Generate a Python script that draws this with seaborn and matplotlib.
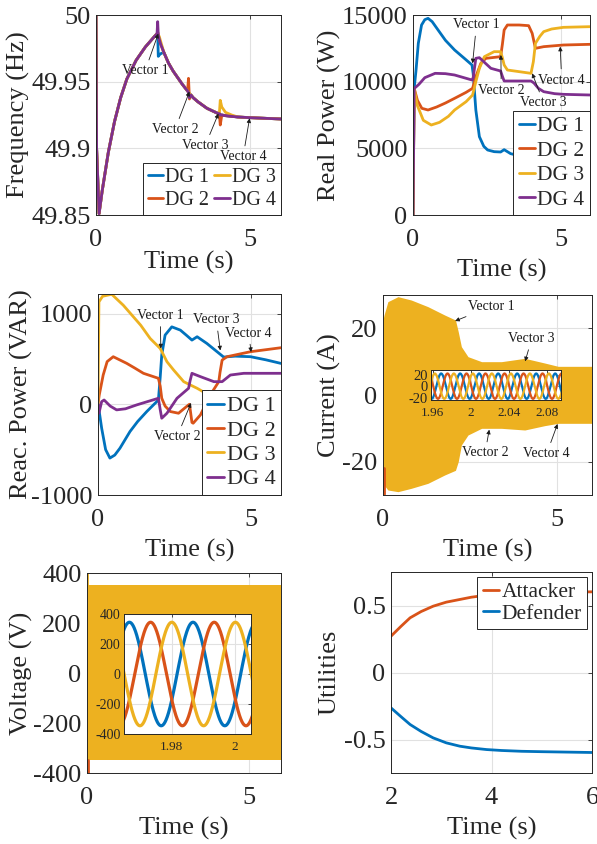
import numpy as np
import matplotlib
matplotlib.use("Agg")
import matplotlib.pyplot as plt
import seaborn as sns

# ---------------- data ----------------
dg_names = ["DG 1", "DG 2", "DG 3", "DG 4"]
dg_colors = ["#0072BD", "#D95319", "#EDB120", "#7E2F8E"]

# frequency (Hz): shared trajectory, each DG only differs at the attack instants
freq_t = [0, 0.02, 0.1, 0.2, 0.4, 0.6, 0.8, 1.0, 1.3, 1.6, 1.9, 1.98, 2.0, 2.02, 2.05,
          2.1, 2.2, 2.35, 2.5, 2.8, 2.97, 3.0, 3.03, 3.08, 3.15, 3.3, 3.6, 3.97, 4.0,
          4.03, 4.08, 4.2, 4.4, 4.6, 5.0, 5.5, 6.0]
freq_base = [50.0, 49.90, 49.851, 49.868, 49.897, 49.92, 49.938, 49.952, 49.966, 49.976,
             49.984, 49.986, 49.987, 49.985, 49.982, 49.978, 49.972, 49.964, 49.958,
             49.948, 49.943, 49.942, 49.941, 49.940, 49.938, 49.935, 49.930, 49.926,
             49.926, 49.925, 49.925, 49.9245, 49.924, 49.9235, 49.923, 49.9225, 49.922]
freq_dev_dg1 = {2.02: 49.969, 2.05: 49.970, 2.1: 49.971}
freq_dev_dg2 = {3.0: 49.9525, 3.03: 49.937, 4.03: 49.9175}
freq_dev_dg3 = {2.05: 49.984, 2.1: 49.980, 4.03: 49.936, 4.08: 49.931, 4.2: 49.927, 4.4: 49.925}
freq_dev_dg4 = {2.0: 49.995, 3.03: 49.938}

# real power (W)
p_dg1_t = [0, 0.04, 0.1, 0.18, 0.29, 0.4, 0.51, 0.65, 0.85, 1.1, 1.41, 1.74, 2.0, 2.04, 2.13,
           2.25, 2.4, 2.53, 2.75, 2.97, 3.09, 3.2, 3.31, 3.5, 4.0, 4.15, 4.4, 6.0]
p_dg1 = [0, 9500, 10800, 12875, 14250, 14650, 14750, 14500, 13875, 13100, 12375, 11750, 11250,
         10600, 7875, 5875, 5150, 4875, 4750, 4725, 4900, 4750, 4600, 4500, 4500, 4200, 4050, 4050]
p_dg2_t = [0, 0.04, 0.15, 0.3, 0.51, 0.8, 1.1, 1.41, 1.8, 2.02, 2.13, 2.3, 2.47, 2.97, 3.03,
           3.09, 3.2, 3.6, 3.92, 4.04, 4.15, 4.43, 5.1, 6.0]
p_dg2 = [0, 9500, 8600, 8000, 7875, 8100, 8400, 8750, 9200, 9500, 10375, 11375, 11750, 11875,
         12800, 13875, 14250, 14250, 14200, 13625, 12500, 12625, 12750, 12800]
p_dg3_t = [0, 0.04, 0.15, 0.35, 0.62, 0.9, 1.2, 1.41, 1.8, 2.02, 2.13, 2.25, 2.42, 2.75, 2.97,
           3.03, 3.09, 3.2, 3.6, 4.0, 4.08, 4.15, 4.3, 4.43, 4.7, 5.1, 6.0]
p_dg3 = [0, 9500, 8200, 7100, 6750, 6950, 7400, 7875, 8500, 9000, 10000, 11000, 11875, 12250,
         12250, 11800, 11250, 10875, 10750, 10625, 11500, 12875, 13400, 13750, 13950, 14075, 14125]
p_dg4_t = [0, 0.04, 0.1, 0.2, 0.4, 0.75, 1.1, 1.41, 2.0, 2.04, 2.13, 2.25, 2.64, 2.97, 3.03,
           3.09, 3.5, 4.0, 4.1, 4.25, 4.43, 4.8, 5.1, 6.0]
p_dg4 = [0, 9500, 9600, 9800, 10300, 10625, 10600, 10500, 10125, 10300, 11750, 11800, 11000,
         10800, 10400, 10050, 10050, 10050, 9900, 9500, 9250, 9100, 9050, 9000]

# reactive power (VAR)
q_dg1_t = [0, 0.04, 0.12, 0.25, 0.39, 0.55, 0.72, 1.05, 1.3, 1.6, 1.98, 2.04, 2.09, 2.2, 2.42,
           2.7, 2.9, 3.08, 3.25, 3.57, 3.9, 4.12, 4.5, 5.0, 5.5, 6.0]
q_dg1 = [0, -80, -264, -500, -593, -560, -484, -300, -190, -80, 47, 300, 542, 762, 853, 817,
         760, 707, 744, 670, 580, 520, 530, 524, 490, 450]
q_dg2_t = [0, 0.04, 0.17, 0.3, 0.5, 0.94, 1.2, 1.49, 1.98, 2.04, 2.09, 2.2, 2.37, 2.64, 2.85,
           2.97, 3.0, 3.08, 3.12, 3.36, 3.68, 3.96, 4.0, 4.07, 4.23, 5.0, 6.0]
q_dg2 = [0, 100, 322, 470, 524, 451, 400, 341, 286, 200, 66, -20, -80, -99, -40, -7, 0, -200,
         -209, -117, 102, 249, 350, 487, 524, 579, 623]
q_dg3_t = [0, 0.03, 0.15, 0.45, 0.83, 1.4, 1.71, 2.04, 2.26, 2.48, 2.81, 3.03, 3.25, 3.63, 4.0,
           4.2, 6.0]
q_dg3 = [0, 1128, 1190, 1212, 1091, 871, 725, 615, 469, 377, 249, 212, 176, 103, 30, -150, -220]
q_dg4_t = [0, 0.03, 0.12, 0.2, 0.4, 0.61, 0.9, 1.27, 1.98, 2.04, 2.09, 2.26, 2.59, 2.97, 3.02,
           3.08, 3.36, 3.8, 4.07, 4.34, 4.78, 6.0]
q_dg4 = [0, -100, 29, 47, -20, -62, -50, -7, 66, -60, -154, -99, 66, 176, 260, 341, 304, 249,
         249, 322, 341, 341]

# current (A): envelope of the three-phase waveform
cur_t = [0, 0.03, 0.14, 0.43, 0.81, 1.29, 1.77, 2.08, 2.16, 2.25, 2.44, 2.83, 3.4, 4.07, 4.64,
         5.03, 6.0]
cur_upper = [22.5, 24, 28, 29.5, 28.5, 26.5, 24, 22.5, 19, 14.5, 11.5, 10, 10, 11, 9.6, 8.6, 8.6]
cur_lower = [-20, -27, -28.5, -29, -28, -26.5, -24, -22.6, -20, -15, -12, -10, -10, -10.5,
             -9.2, -8.5, -8.5]
cur_spike = [-21.8, -29.8]
cur_amp = 22
cur_peak_t = 1.9687

# voltage (V)
volt_t = [0, 6.0]
volt_upper = [352, 352]
volt_lower = [-348, -348]
volt_spike_top = [352, 400]
volt_spike_bottom = [-348, -400]
volt_amp = 345
volt_peak_t = 1.9667
grid_freq = 49.92

# utilities
u_t = [2.0, 2.2, 2.38, 2.6, 2.84, 3.1, 3.37, 3.6, 3.9, 4.2, 4.6, 5.0, 5.5, 6.0]
u_attacker = [0.271, 0.345, 0.408, 0.455, 0.495, 0.525, 0.545, 0.562, 0.577, 0.587, 0.594,
              0.598, 0.600, 0.602]
u_defender = [-0.264, -0.33, -0.388, -0.44, -0.488, -0.525, -0.55, -0.563, -0.575, -0.582,
              -0.588, -0.591, -0.594, -0.597]

# ---------------- style ----------------
sns.set_theme(style="white")
plt.rcParams['font.family'] = ['Liberation Serif', 'DejaVu Serif']
plt.rcParams['axes.unicode_minus'] = False
TXT = '#262626'

fig = plt.figure(figsize=(5.97, 8.44), dpi=100)
W, H = 597, 844


def make_ax(left, top, right, bottom):
    return fig.add_axes([left / W, 1 - bottom / H, (right - left) / W, (bottom - top) / H])


def style(ax, xlim, ylim, xticks, yticks, yticklabels, size=19, pad=4, xpad=10):
    ax.set_xlim(xlim)
    ax.set_ylim(ylim)
    ax.set_xticks(xticks)
    ax.set_xticklabels([f"{v:g}" for v in xticks])
    ax.set_yticks(yticks)
    ax.set_yticklabels(yticklabels)
    ax.grid(True, color='#e1e1e1', lw=0.8)
    ax.set_axisbelow(True)
    ax.tick_params(direction='in', top=True, right=True, length=3, width=0.6,
                   labelsize=size, colors=TXT, pad=pad)
    ax.tick_params(axis='x', pad=xpad)
    for s in ax.spines.values():
        s.set_color(TXT)
        s.set_linewidth(0.7)
        s.set_zorder(6)


def labels(ax, ylab, ypos, xpos):
    ax.set_xlabel("Time (s)", fontsize=19, color=TXT)
    ax.xaxis.set_label_coords(0.5, xpos)
    ax.set_ylabel(ylab, fontsize=19, color=TXT)
    ax.yaxis.set_label_coords(ypos, 0.5)


def draw_dg(ax, ts, vs):
    for name, color, t, v in zip(dg_names, dg_colors, ts, vs):
        sns.lineplot(x=t, y=v, ax=ax, color=color, lw=2, label=name,
                     estimator=None, sort=False)


def dg_legend(ax, size, spacing=0.2, **kw):
    h, l = ax.get_legend_handles_labels()
    leg = ax.legend(h, l, fontsize=size, frameon=True, fancybox=False, framealpha=1,
                    edgecolor=TXT, handlelength=0.75, handletextpad=0.12,
                    borderpad=0.25, labelspacing=spacing, borderaxespad=0, **kw)
    leg.get_frame().set_linewidth(0.7)
    for t in leg.get_texts():
        t.set_color(TXT)
    return leg


def vec(ax, text, xy, xytext):
    ax.annotate(text, xy=xy, xytext=xytext, fontsize=10, ha='center', va='center',
                color='k', zorder=7,
                arrowprops=dict(arrowstyle='-|>', color='k', lw=0.6,
                                mutation_scale=6, shrinkA=1, shrinkB=0))


# ---------------- 1. frequency ----------------
ax1 = make_ax(96, 15, 281, 215)
freq_sets = []
for dev in [freq_dev_dg1, freq_dev_dg2, freq_dev_dg3, freq_dev_dg4]:
    freq_sets.append([dev.get(t, f) for t, f in zip(freq_t, freq_base)])
draw_dg(ax1, [freq_t] * 4, freq_sets)
style(ax1, (0, 6), (49.85, 50), [0, 5], [49.85, 49.9, 49.95, 50],
      ['49.85', '49.9', '49.95', '50'])
labels(ax1, "Frequency (Hz)", -0.357, -0.18)
vec(ax1, "Vector 1", (2.02, 49.986), (1.59, 49.958))
vec(ax1, "Vector 2", (3.03, 49.9425), (2.56, 49.914))
vec(ax1, "Vector 3", (3.97, 49.926), (3.54, 49.902))
vec(ax1, "Vector 4", (4.98, 49.9225), (4.77, 49.8935))
dg_legend(ax1, 14.5, ncol=2, loc='lower right', bbox_to_anchor=(1, 0), columnspacing=0.25)

# ---------------- 2. real power ----------------
ax2 = make_ax(413, 15, 590, 215)
draw_dg(ax2, [p_dg1_t, p_dg2_t, p_dg3_t, p_dg4_t], [p_dg1, p_dg2, p_dg3, p_dg4])
style(ax2, (0, 6), (0, 15000), [0, 5], [0, 5000, 10000, 15000],
      ['0', '5000', '10000', '15000'])
labels(ax2, "Real Power (W)", -0.407, -0.22)
vec(ax2, "Vector 1", (2.02, 11375), (2.15, 14250))
vec(ax2, "Vector 2", (2.98, 12000), (2.99, 9375))
vec(ax2, "Vector 3", (4.04, 10625), (4.43, 8400))
vec(ax2, "Vector 4", (4.99, 12625), (5.04, 10125))
dg_legend(ax2, 15.5, loc='lower right', bbox_to_anchor=(1, 0))

# ---------------- 3. reactive power ----------------
ax3 = make_ax(98, 294, 281, 495)
draw_dg(ax3, [q_dg1_t, q_dg2_t, q_dg3_t, q_dg4_t], [q_dg1, q_dg2, q_dg3, q_dg4])
style(ax3, (0, 6), (-1000, 1215), [0, 5], [-1000, 0, 1000], ['-1000', '0', '1000'])
labels(ax3, "Reac. Power (VAR)", -0.355, -0.22)
vec(ax3, "Vector 1", (2.06, 615), (2.04, 978))
vec(ax3, "Vector 3", (4.01, 593), (3.88, 930))
vec(ax3, "Vector 4", (5.02, 575), (4.94, 784))
vec(ax3, "Vector 2", (3.05, 14), (2.59, -359))
dg_legend(ax3, 16, spacing=0.17, loc='lower right', bbox_to_anchor=(1, 0))

# ---------------- 4. current ----------------
ax4 = make_ax(383, 295, 592, 495)
ax4.fill_between(cur_t, cur_lower, cur_upper, color=dg_colors[2], lw=0, zorder=2)
sns.lineplot(x=[0.02, 0.02], y=cur_spike, ax=ax4, color=dg_colors[1], lw=2,
             estimator=None, sort=False)
style(ax4, (0, 6), (-30, 30), [0, 5], [-20, 0, 20], ['-20', '0', '20'])
labels(ax4, "Current (A)", -0.201, -0.22)
vec(ax4, "Vector 1", (2.07, 22.2), (3.12, 26.6))
vec(ax4, "Vector 3", (4.08, 10.1), (4.27, 16.9))
vec(ax4, "Vector 2", (3.05, -10.4), (2.93, -17.4))
vec(ax4, "Vector 4", (5.01, -8.7), (4.7, -17.6))

ins4 = make_ax(431, 370, 561, 400)
t_in = np.linspace(1.955, 2.1, 600)
for k, color in enumerate(dg_colors[:3]):
    wave = cur_amp * np.cos(2 * np.pi * grid_freq * (t_in - cur_peak_t) - 2 * np.pi * k / 3)
    sns.lineplot(x=t_in, y=wave, ax=ins4, color=color, lw=1.6, estimator=None, sort=False)
style(ins4, (1.958, 2.095), (-24, 28), [1.96, 2.0, 2.04, 2.08], [-20, 0, 20],
      ['-20', '0', '20'], size=10.5, pad=2.5, xpad=5)
ins4.tick_params(axis='x', labelsize=9.5, length=2)
ins4.tick_params(axis='y', length=2)
ins4.set_xticklabels(['1.96', '2', '2.04', '2.08'])

# ---------------- 5. voltage ----------------
ax5 = make_ax(87, 573, 281, 773)
ax5.fill_between(volt_t, volt_lower, volt_upper, color=dg_colors[2], lw=0, zorder=2)
sns.lineplot(x=[0.01, 0.01], y=volt_spike_top, ax=ax5, color=dg_colors[2], lw=2,
             estimator=None, sort=False)
sns.lineplot(x=[0.03, 0.03], y=volt_spike_bottom, ax=ax5, color=dg_colors[1], lw=2,
             estimator=None, sort=False)
style(ax5, (0, 6), (-400, 400), [0, 5], [-400, -200, 0, 200, 400],
      ['-400', '-200', '0', '200', '400'])
labels(ax5, "Voltage (V)", -0.278, -0.22)

ins5 = make_ax(124, 614, 251, 734)
t_v = np.linspace(1.96, 2.01, 500)
for k, color in enumerate(dg_colors[:3]):
    wave = volt_amp * np.cos(2 * np.pi * grid_freq * (t_v - volt_peak_t) - 2 * np.pi * k / 3)
    sns.lineplot(x=t_v, y=wave, ax=ins5, color=color, lw=2.3, estimator=None, sort=False)
style(ins5, (1.965, 2.005), (-400, 400), [1.98, 2.0], [-400, -200, 0, 200, 400],
      ['-400', '-200', '0', '200', '400'], size=10, pad=2.5, xpad=5)
ins5.tick_params(axis='x', labelsize=9.5, length=2)
ins5.tick_params(axis='y', length=2)
ins5.set_xticklabels(['1.98', '2'])

# ---------------- 6. utilities ----------------
ax6 = make_ax(391, 572, 592, 773)
sns.lineplot(x=u_t, y=u_attacker, ax=ax6, color=dg_colors[1], lw=2, label="Attacker",
             estimator=None, sort=False)
sns.lineplot(x=u_t, y=u_defender, ax=ax6, color=dg_colors[0], lw=2, label="Defender",
             estimator=None, sort=False)
style(ax6, (2, 6), (-0.75, 0.75), [2, 4, 6], [-0.5, 0, 0.5], ['-0.5', '0', '0.5'])
labels(ax6, "Utilities", -0.249, -0.22)
leg6 = dg_legend(ax6, 15.5, spacing=0.05, loc='upper right', bbox_to_anchor=(0.975, 0.975))
leg6.set_zorder(8)

fig.savefig("out.png", dpi=100, facecolor='white')
